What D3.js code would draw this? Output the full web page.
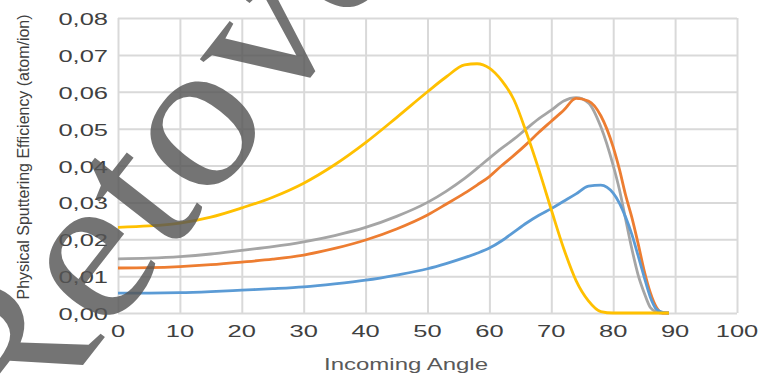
<!doctype html>
<html>
<head>
<meta charset="UTF-8">
<title>Sputtering</title>
<script src="https://d3js.org/d3.v7.min.js"></script>
<style>
  body { margin: 0; background: #fff; }
  svg { display: block; }
</style>
</head>
<body>
<script>
// angles (deg) shared by all series
var angles = [0, 5, 10, 15, 20, 25, 30, 35, 40, 45, 50, 53, 56, 58, 60, 62, 64, 66, 68, 70,
              72, 74, 76, 78, 80, 81, 82, 83, 84, 85, 86, 87, 88, 89];

var yellowVals = [0.0232, 0.0236, 0.0244, 0.0260, 0.0285, 0.0314, 0.0352, 0.0402, 0.0462, 0.0530,
                  0.0600, 0.0640, 0.0673, 0.0676, 0.0664, 0.0630, 0.0577, 0.0488, 0.0388, 0.0280,
                  0.0175, 0.0088, 0.0033, 0.0004, 0, 0, 0, 0, 0, 0, 0, 0, 0, 0];
var grayVals   = [0.0147, 0.0149, 0.0153, 0.0160, 0.0170, 0.0180, 0.0193, 0.0210, 0.0232, 0.0262,
                  0.0300, 0.0330, 0.0365, 0.0392, 0.0420, 0.0447, 0.0472, 0.0500, 0.0527, 0.0550,
                  0.0575, 0.0584, 0.0570, 0.0505, 0.0400, 0.0335, 0.0255, 0.0175, 0.0105, 0.0055,
                  0.0015, 0.0003, 0, 0];
var orangeVals = [0.0122, 0.0123, 0.0126, 0.0131, 0.0138, 0.0146, 0.0157, 0.0175, 0.0198, 0.0228,
                  0.0266, 0.0295, 0.0325, 0.0347, 0.0370, 0.0400, 0.0428, 0.0458, 0.0490, 0.0520,
                  0.0550, 0.0582, 0.0575, 0.0535, 0.0450, 0.0390, 0.0320, 0.0260, 0.0190, 0.0115,
                  0.0055, 0.0015, 0, 0];
var blueVals   = [0.0054, 0.0054, 0.0055, 0.0058, 0.0062, 0.0066, 0.0071, 0.0079, 0.0089, 0.0103,
                  0.0120, 0.0134, 0.0150, 0.0162, 0.0176, 0.0196, 0.0220, 0.0244, 0.0265, 0.0283,
                  0.0303, 0.0323, 0.0344, 0.0347, 0.0325, 0.0298, 0.0260, 0.0214, 0.0157, 0.0098,
                  0.0043, 0.0010, 0.0002, 0];

var xTicks = [0, 10, 20, 30, 40, 50, 60, 70, 80, 90, 100];
var yTicks = [0, 0.01, 0.02, 0.03, 0.04, 0.05, 0.06, 0.07, 0.08];

var yTitle = "Physical Sputtering Efficiency (atom/ion)";
var xTitle = "Incoming Angle";
var stamp = "Retove";

var W = 763, H = 379;
var svg = d3.select("body").append("svg").attr("width", W).attr("height", H);

var x = d3.scaleLinear().domain([0, 100]).range([118, 737]);
var y = d3.scaleLinear().domain([0, 0.08]).range([313, 18]);

var comma = d3.formatLocale({decimal: ",", thousands: ".", grouping: [3], currency: ["", ""]}).format(".2f");

// grid
svg.append("g")
  .attr("transform", "translate(0,313)")
  .call(d3.axisBottom(x).tickValues(xTicks).tickSize(-295).tickFormat(""))
  .call(function(g){
    g.select(".domain").remove();
    g.selectAll("line").attr("stroke", "#d9d9d9").attr("stroke-width", 2);
  });
svg.append("g")
  .attr("transform", "translate(118,0)")
  .call(d3.axisLeft(y).tickValues(yTicks).tickSize(-619).tickFormat(""))
  .call(function(g){
    g.select(".domain").remove();
    g.selectAll("line").attr("stroke", "#d9d9d9").attr("stroke-width", 2);
  });

// tick labels (stretched like the original)
svg.append("g").selectAll("text").data(yTicks).enter().append("text")
  .attr("transform", function(d){ return "translate(108," + (y(d) + 7) + ") scale(1.5,1)"; })
  .attr("text-anchor", "end")
  .attr("font-family", "Liberation Sans, Arial, sans-serif")
  .attr("font-size", 17)
  .attr("fill", "#404040")
  .text(comma);

svg.append("g").selectAll("text").data(xTicks).enter().append("text")
  .attr("transform", function(d){ return "translate(" + x(d) + ",337) scale(1.5,1)"; })
  .attr("text-anchor", "middle")
  .attr("font-family", "Liberation Sans, Arial, sans-serif")
  .attr("font-size", 17)
  .attr("fill", "#404040")
  .text(function(d){ return d; });

svg.append("text")
  .attr("transform", "translate(406,370) scale(1.5,1)")
  .attr("text-anchor", "middle")
  .attr("font-family", "Liberation Sans, Arial, sans-serif")
  .attr("font-size", 16)
  .attr("fill", "#595959")
  .text(xTitle);

svg.append("text")
  .attr("transform", "translate(29,157) rotate(-90) scale(1,1.3)")
  .attr("text-anchor", "middle")
  .attr("font-family", "Liberation Sans, Arial, sans-serif")
  .attr("font-size", 13)
  .attr("textLength", 285)
  .attr("lengthAdjust", "spacingAndGlyphs")
  .attr("fill", "#404040")
  .text(yTitle);

// series
var series = [
  {name: "gray", vals: grayVals, color: "#a5a5a5"},
  {name: "orange", vals: orangeVals, color: "#ed7d31"},
  {name: "blue", vals: blueVals, color: "#5b9bd5"},
  {name: "yellow", vals: yellowVals, color: "#ffc000"}
];

var line = d3.line()
  .x(function(d){ return x(d[0]); })
  .y(function(d){ return y(d[1]); })
  .curve(d3.curveMonotoneX);

svg.append("g").selectAll("path").data(series).enter().append("path")
  .attr("d", function(s){ return line(angles.map(function(a, i){ return [a, s.vals[i]]; })); })
  .attr("fill", "none")
  .attr("stroke", function(s){ return s.color; })
  .attr("stroke-width", 2.8)
  .attr("stroke-linejoin", "round");

// overlay stamp
svg.append("text")
  .attr("transform", "translate(12,456) rotate(-52) scale(1.08,1)")
  .attr("font-family", "Liberation Serif, Times New Roman, serif")
  .attr("font-size", 210)
  .attr("fill", "#555555")
  .attr("fill-opacity", 0.82)
  .text(stamp);
</script>
</body>
</html>
